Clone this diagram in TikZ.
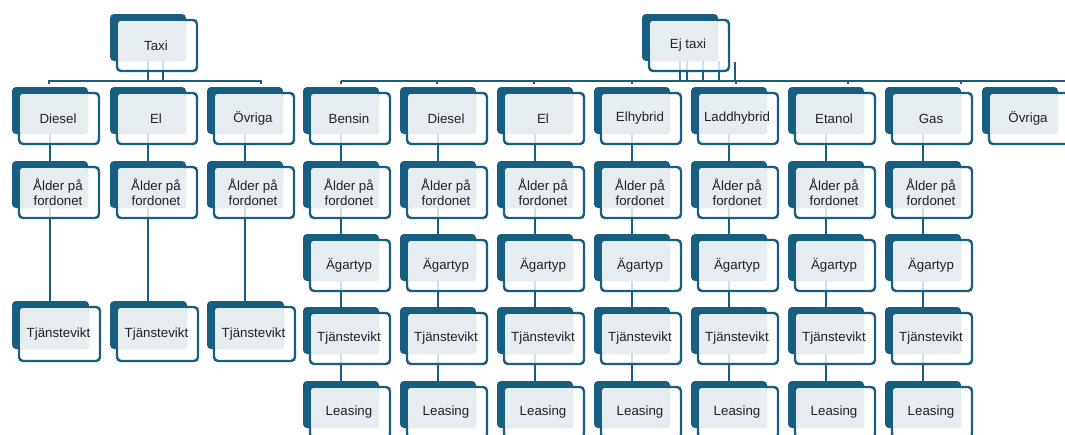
\documentclass[tikz,border=0pt]{standalone}
\usepackage{fontspec}
\setmainfont{Liberation Sans}
\pgfdeclarelayer{back}\pgfdeclarelayer{bg}
\pgfsetlayers{back,bg,main}
\definecolor{dk}{HTML}{185E80}
\definecolor{lg}{HTML}{E6EDF1}
\definecolor{tx}{HTML}{222222}
\tikzset{
 darkbox/.style={anchor=north west, inner sep=0pt, outer sep=0pt, fill=dk, rounded corners=4pt, draw=none},
 frontbox/.style={anchor=north west, inner sep=0pt, outer sep=0pt, draw=dk, line width=2.4pt, fill=white, fill opacity=0.8, rounded corners=4pt},
 graybox/.style={fill=lg, rounded corners=2pt},
 txt/.style={text=tx, font=\fontsize{13.3}{15.5}\selectfont, align=center, inner sep=0pt},
 conn/.style={draw=dk, line width=2pt},
}
\def\dw{76}\def\dh{47}\def\fw{80}\def\fh{51}
\newcommand\card[4]{%
 \node[darkbox, minimum width=\dw pt, minimum height=\dh pt] (#1-dk) at (#2,#3) {};
 \node[frontbox, minimum width=\fw pt, minimum height=\fh pt] (#1) at (#2+7,#3+6) {};
 \fill[graybox] ([xshift=1.2pt,yshift=-1.2pt]#1.north west) rectangle (#1-dk.south east);
 \node[txt] (#1-t) at ([xshift=-1pt]#1.center) {#4};
}
\begin{document}
\begin{tikzpicture}[x=1pt,y=-1pt]
\useasboundingbox (0,0) rectangle (1065,434);
\clip (0,0) rectangle (1065,434);
\begin{pgfonlayer}{back}
\fill[white] (0,0) rectangle (1065,434);
\end{pgfonlayer}
% top level
\card{taxi}{110}{14}{Taxi}
\card{ej}{642}{14}{Ej taxi}
% taxi children
\foreach \i/\x/\t in {1/12/Diesel,2/110/El,3/207/Övriga}{
 \card{t\i}{\x}{87}{\t}
 \card{t\i-ra}{\x}{161}{Ålder på\\fordonet}
}
\def\dw{77}\def\dh{48}\def\fw{81}\def\fh{54}
\foreach \i/\x in {1/12,2/110,3/207}{
 \card{t\i-rc}{\x}{301}{Tjänstevikt}
}
\def\dw{76}\def\dh{47}\def\fw{80}\def\fh{51}
% ej taxi children
\foreach \i/\x/\t in {1/303/Bensin,2/400/Diesel,3/497/El,4/594/Elhybrid,5/691/Laddhybrid,6/788/Etanol,7/885/Gas,8/982/Övriga}{
 \card{e\i}{\x}{87}{\t}
}
\foreach \i/\x in {1/303,2/400,3/497,4/594,5/691,6/788,7/885}{
 \card{e\i-ra}{\x}{161}{Ålder på\\fordonet}
 \card{e\i-rb}{\x}{234}{Ägartyp}
 \card{e\i-rc}{\x}{307}{Tjänstevikt}
 \card{e\i-rd}{\x}{381}{Leasing}
}
% connectors
\coordinate (tbus) at (0,81);
\coordinate (tbusL) at (49,84);
\coordinate (tbusR) at (261,84);
\coordinate (ebus) at (0,81);
\coordinate (ebusR) at (1070,81);
\foreach \n/\x in {k1/341,k2/437,k3/534,k4/632,k5/736,k6/848,k7/961}{
 \coordinate (\n) at (\x,84);
}
\begin{pgfonlayer}{bg}
\draw[conn] (taxi-dk.south) -- (taxi-dk.south |- tbus);
\draw[conn] ([xshift=15pt]taxi-dk.south) -- ([xshift=15pt]taxi-dk.south |- tbus);
\draw[conn] (tbusL) -- (tbusL |- tbus) -- (tbusR |- tbus) -- (tbusR);
\foreach \s in {0,7,23,39}{
 \draw[conn] ([xshift=\s pt]ej-dk.south) -- ([xshift=\s pt]ej-dk.south |- ebus);
}
\draw[conn] ([xshift=55pt,yshift=-1pt]ej-dk.south) -- ([xshift=55pt]ej-dk.south |- ebus);
\draw[conn] (k1 |- ebus) -- (ebusR);
\foreach \n in {k1,k2,k3,k4,k5,k6,k7}{
 \draw[conn] (\n |- ebus) -- (\n);
}
\foreach \i in {1,2,3}{
 \draw[conn] (t\i-dk.south) -- (t\i-ra-dk.north);
 \draw[conn] (t\i-ra-dk.south) -- (t\i-ra-dk.south |- t\i-rc-dk.north);
}
\foreach \i in {1,...,7}{
 \draw[conn] (e\i-dk.south) -- (e\i-ra-dk.north);
 \draw[conn] (e\i-ra-dk.south) -- (e\i-rb-dk.north);
 \draw[conn] (e\i-rb-dk.south) -- (e\i-rc-dk.north);
 \draw[conn] (e\i-rc-dk.south) -- (e\i-rd-dk.north);
}
\end{pgfonlayer}
\end{tikzpicture}
\end{document}
